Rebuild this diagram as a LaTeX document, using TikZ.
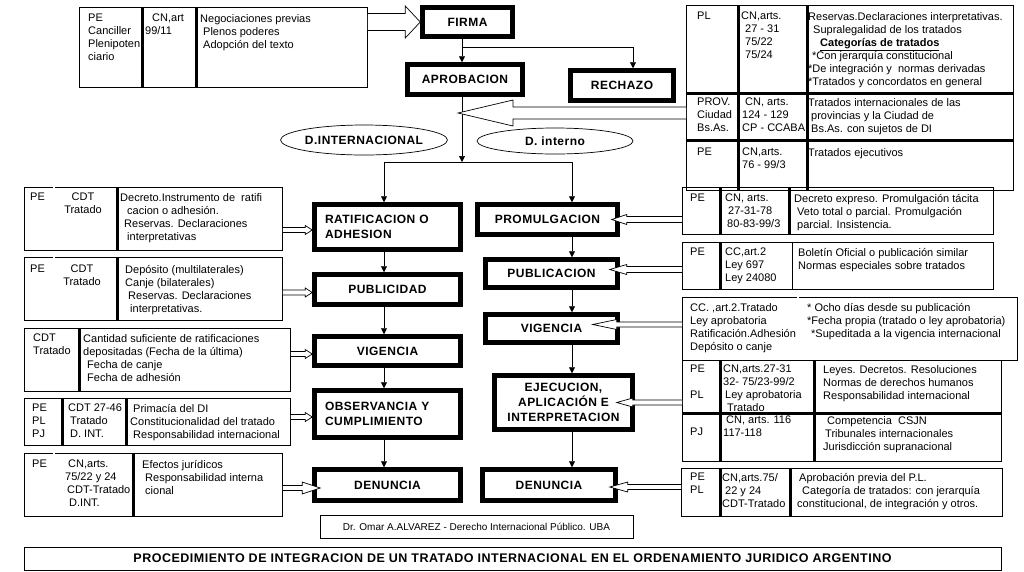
\documentclass[tikz,border=0pt]{standalone}
\usepackage{fontspec}
\setmainfont{Liberation Sans}
\newfontfamily\sperrfont{Liberation Sans}[LetterSpace=4]
\usetikzlibrary{shapes.geometric,calc,arrows.meta}

\newcommand{\klein}{\fontsize{11}{13}\selectfont}
\newcommand{\gross}{\sperrfont\bfseries\fontsize{12}{15}\selectfont}
\newcommand{\ein}[1]{\hspace*{#1pt}}
% Hohlpfeile (Schaft, Spitze, Laenge)
\newcommand{\hohlrechts}[5]{%
  \draw[hohl] let \p1=(#1), \p2=(#2) in
    (\x1,\y2+#3pt) -- (\x2-#5pt,\y2+#3pt) -- (\x2-#5pt,\y2+#4pt) -- (\x2,\y2)
    -- (\x2-#5pt,\y2-#4pt) -- (\x2-#5pt,\y2-#3pt) -- (\x1,\y2-#3pt);}
\newcommand{\hohllinks}[5]{%
  \draw[hohl] let \p1=(#1), \p2=(#2) in
    (\x1,\y2+#3pt) -- (\x2+#5pt,\y2+#3pt) -- (\x2+#5pt,\y2+#4pt) -- (\x2,\y2)
    -- (\x2+#5pt,\y2-#4pt) -- (\x2+#5pt,\y2-#3pt) -- (\x1,\y2-#3pt);}

\begin{document}
\begin{tikzpicture}[x=1pt, y=-1pt,
  tab/.style={draw, line width=0.8pt, inner sep=0pt, anchor=north west},
  zelle/.style={anchor=north west, align=left, inner sep=0pt, font=\klein},
  mitte/.style={anchor=north, align=center, inner sep=0pt, font=\klein},
  trenn/.style={line width=3pt},
  doppel/.style={double, double distance=1.4pt, line width=0.6pt},
  paso/.style={draw, line width=4.5pt, fill=white, inner sep=2pt, font=\gross},
  ovalo/.style={draw, ellipse, line width=0.7pt, inner sep=0pt, font=\sperrfont\bfseries\fontsize{12}{14}\selectfont},
  fluss/.style={-{Triangle[length=6pt,width=6pt]}, line width=0.7pt},
  hohl/.style={fill=white, line width=0.7pt}]
  \useasboundingbox (0,0) rectangle (1024,571);
  \fill[white] (0,0) rectangle (1024,571);

  % Hilfslinien
  \coordinate (mc) at (462,0);
  \coordinate (lc) at (384,0);
  \coordinate (rc) at (572,0);
  \coordinate (gabel) at (462,47);
  \coordinate (teil) at (462,162);
  \coordinate (prov) at (458,113);

  % Ablauf
  \node[paso, minimum width=90, minimum height=29] (firma) at (467.5,22) {FIRMA};
  \node[paso, minimum width=115, minimum height=30] (aprob) at (465,79.5) {APROBACION};
  \node[paso, minimum width=103, minimum height=30] (rechazo) at (622,85.5) {RECHAZO};
  \node[paso, minimum width=146, minimum height=45, text width=125, align=left] (ratif) at (387.5,227) {RATIFICACION O\\ADHESION};
  \node[paso, minimum width=146, minimum height=30] (publi) at (387.5,289.5) {PUBLICIDAD};
  \node[paso, minimum width=146, minimum height=29] (vigi) at (387.5,351) {VIGENCIA};
  \node[paso, minimum width=146, minimum height=47, text width=125, align=left] (obs) at (387.5,414) {OBSERVANCIA Y\\CUMPLIMIENTO};
  \node[paso, minimum width=146, minimum height=31] (denI) at (387.5,485) {DENUNCIA};
  \node[paso, minimum width=140, minimum height=30] (prom) at (547.5,219.5) {PROMULGACION};
  \node[paso, minimum width=132, minimum height=28] (publ) at (551.5,273.5) {PUBLICACION};
  \node[paso, minimum width=132, minimum height=28] (vigd) at (551.5,328.5) {VIGENCIA};
  \node[paso, minimum width=138, minimum height=54, align=center] (ejec) at (563.5,402.5) {EJECUCION,\\APLICACIÓN E\\INTERPRETACION};
  \node[paso, minimum width=133, minimum height=31] (denD) at (549,485) {DENUNCIA};

  \node[ovalo, minimum width=164, minimum height=30] (dint) at (364,140) {D.INTERNACIONAL};
  \node[ovalo, minimum width=156, minimum height=26] (dintr) at (555,141) {D. interno};

  % Tabelle Firma
  \node[tab, minimum width=288, minimum height=80] (tneg) at (79,7) {};
  \draw[trenn] (142,7) -- (142,87);
  \draw[trenn] (196,7) -- (196,87);
  \node[zelle] (neg1) at (88,14) {PE\\Canciller\\Plenipoten\\ciario};
  \node[zelle] (neg2) at (145,14) {\ein{7}CN,art\\99/11};
  \node[zelle] (neg3) at (200,14) {Negociaciones previas\\\ein{3}Plenos poderes\\\ein{3}Adopción del texto};

  % Tabelle oben rechts
  \node[tab, minimum width=327, minimum height=185] (ttop) at (686,5) {};
  \draw[trenn] (686,93) -- (1013,93);
  \draw[trenn] (686,140) -- (1013,140);
  \draw[trenn] (738,5) -- (738,190);
  \draw[trenn] (807,5) -- (807,190);
  \node[zelle] (top1) at (697,12) {PL};
  \node[zelle] (top2) at (741,12) {CN,arts.\\\ein{4}27 - 31\\\ein{4}75/22\\\ein{4}75/24};
  \node[zelle] (top3) at (808,12) {Reservas.Declaraciones interpretativas.\\\ein{5}Supralegalidad de los tratados\\\ein{12}\underline{\textbf{Categorías de tratados}}\\\ein{4}*Con jerarquía constitucional\\*De integración y\ \ normas derivadas\\*Tratados y concordatos en general};
  \node[zelle] (top4) at (697,98) {PROV.\\Ciudad\\Bs.As.};
  \node[zelle] (top5) at (742,98) {\ein{3}CN, arts.\\124 - 129\\CP - CCABA};
  \node[zelle] (top6) at (808,98) {Tratados internacionales de las\\\ein{3}provincias y la Ciudad de\\\ein{3}Bs.As. con sujetos de DI};
  \node[zelle] (top7) at (697,148) {PE};
  \node[zelle] (top8) at (742,148) {CN,arts.\\76 - 99/3};
  \node[zelle] (top9) at (808,148) {Tratados ejecutivos};

  % Tabellen links
  \node[tab, minimum width=258, minimum height=63] (tL1) at (24,187) {};
  \draw[doppel] (54,187) -- (54,250);
  \draw[trenn] (117,187) -- (117,250);
  \node[zelle] (l1a) at (30,193) {PE};
  \node[mitte] (l1b) at (83,193) {CDT\\Tratado};
  \node[zelle] (l1c) at (120,193) {Decreto.Instrumento de\ \ ratifi\\\ein{7}cacion o adhesión.\\\ein{4}Reservas. Declaraciones\\\ein{7}interpretativas};

  \node[tab, minimum width=258, minimum height=63] (tL2) at (24,257) {};
  \draw[doppel] (54,257) -- (54,320);
  \draw[trenn] (117,257) -- (117,320);
  \node[zelle] (l2a) at (30,265) {PE};
  \node[mitte] (l2b) at (82,265) {CDT\\Tratado};
  \node[zelle] (l2c) at (125,265) {Depósito (multilaterales)\\Canje (bilaterales)\\\ein{3}Reservas. Declaraciones\\\ein{5}interpretativas.};

  \node[tab, minimum width=266, minimum height=63] (tL3) at (24,328) {};
  \draw[trenn] (79,328) -- (79,391);
  \node[zelle] (l3a) at (33,334) {CDT\\Tratado};
  \node[zelle] (l3b) at (83,334) {Cantidad suficiente de ratificaciones\\depositadas (Fecha de la última)\\\ein{4}Fecha de canje\\\ein{4}Fecha de adhesión};

  \node[tab, minimum width=266, minimum height=47] (tL4) at (24,398) {};
  \draw[trenn] (62,398) -- (62,445);
  \draw[trenn] (126,398) -- (126,445);
  \node[zelle] (l4a) at (32,404) {PE\\PL\\PJ};
  \node[zelle] (l4b) at (68,404) {CDT 27-46\\\ein{2}Tratado\\\ein{2}D. INT.};
  \node[zelle] (l4c) at (130,404) {\ein{3}Primacía del DI\\Constitucionalidad del tratado\\\ein{3}Responsabilidad internacional};

  \node[tab, minimum width=258, minimum height=63] (tL5) at (24,453) {};
  \draw[doppel] (54,453) -- (54,516);
  \draw[trenn] (133,453) -- (133,516);
  \node[zelle] (l5a) at (32,460) {PE};
  \node[zelle] (l5b) at (65,460) {\ein{3}CN,arts.\\75/22 y 24\\\ein{2}CDT-Tratado\\\ein{4}D.INT.};
  \node[zelle] (l5c) at (142,460) {Efectos jurídicos\\\ein{3}Responsabilidad interna\\\ein{3}cional};

  % Tabellen rechts
  \node[tab, minimum width=311, minimum height=47] (tR1) at (682,187) {};
  \draw[trenn] (720,187) -- (720,234);
  \draw[trenn] (789,187) -- (789,234);
  \node[zelle] (r1a) at (690,194) {PE};
  \node[zelle] (r1b) at (725,194) {CN, arts.\\\ein{3}27-31-78\\\ein{2}80-83-99/3};
  \node[zelle] (r1c) at (794,194) {Decreto expreso. Promulgación tácita\\\ein{3}Veto total o parcial. Promulgación\\\ein{3}parcial. Insistencia.};

  \node[tab, minimum width=311, minimum height=47] (tR2) at (682,242) {};
  \draw[trenn] (720,242) -- (720,289);
  \draw[line width=0.8pt] (792,242) -- (792,289);
  \node[zelle] (r2a) at (690,248) {PE};
  \node[zelle] (r2b) at (725,248) {CC,art.2\\Ley 697\\Ley 24080};
  \node[zelle] (r2c) at (798,248) {Boletín Oficial o publicación similar\\Normas especiales sobre tratados};

  \node[tab, minimum width=335, minimum height=63] (tR3) at (682,297) {};
  \draw[doppel] (798,297) -- (798,360);
  \node[zelle] (r3a) at (690,303) {CC. ,art.2.Tratado\\Ley aprobatoria\\Ratificación.Adhesión\\Depósito o canje};
  \node[zelle] (r3b) at (807,303) {* Ocho días desde su publicación\\*Fecha propia (tratado o ley aprobatoria)\\\ein{4}*Supeditada a la vigencia internacional};

  \node[tab, minimum width=319, minimum height=101] (tR4) at (682,360) {};
  \draw[trenn] (720,360) -- (720,461);
  \draw[trenn] (814,360) -- (814,461);
  \node[zelle] (r4a) at (690,365) {PE\\[13pt]PL};
  \node[zelle] (r4b) at (723,365) {CN,arts.27-31\\32- 75/23-99/2\\\ein{2}Ley aprobatoria\\\ein{4}Tratado};
  \node[zelle] (r4c) at (823,365) {Leyes. Decretos. Resoluciones\\Normas de derechos humanos\\Responsabilidad internacional};
  \draw[trenn] (682,413) -- (1001,413);
  \node[zelle] (r4d) at (690,428) {PJ};
  \node[zelle] (r4e) at (723,416) {\ein{3}CN, arts. 116\\117-118};
  \node[zelle] (r4f) at (823,416) {\ein{4}Competencia\ \ CSJN\\\ein{2}Tribunales internacionales\\Jurisdicción supranacional};

  \node[tab, minimum width=321, minimum height=48] (tR5) at (681,468) {};
  \draw[trenn] (720,468) -- (720,516);
  \draw[trenn] (790,468) -- (790,516);
  \node[zelle] (r5a) at (690,473) {PE\\PL};
  \node[zelle] (r5b) at (722,473) {CN,arts.75/\\\ein{3}22 y 24\\CDT-Tratado};
  \node[zelle] (r5c) at (797,473) {\ein{2}Aprobación previa del P.L.\\\ein{5}Categoría de tratados: con jerarquía\\constitucional, de integración y otros.};

  % Fusszeilen
  \node[draw, line width=0.8pt, minimum width=313, minimum height=23, inner sep=0pt,
        font=\fontsize{10}{12}\selectfont] (autor) at (476.5,526.5)
        {Dr. Omar A.ALVAREZ - Derecho Internacional Público. UBA};
  \node[draw, line width=0.8pt, minimum width=977, minimum height=23, inner sep=0pt,
        font=\sperrfont\bfseries\fontsize{12.5}{14}\selectfont] (titel) at (512.5,558.5)
        {PROCEDIMIENTO DE INTEGRACION DE UN TRATADO INTERNACIONAL EN EL ORDENAMIENTO JURIDICO ARGENTINO};

  % Verbindungen
  \draw[fluss] (firma.south -| mc) -- (aprob.north -| mc);
  \draw[fluss] (gabel) -| ([xshift=11pt]rechazo.north);
  \draw[fluss] (aprob.south -| mc) -- (teil);
  \draw[line width=0.7pt] (teil -| lc) -- (teil -| rc);
  \draw[fluss] (teil -| lc) -- (ratif.north -| lc);
  \draw[fluss] (teil -| rc) -- (prom.north -| rc);
  \foreach \a/\b in {ratif/publi, publi/vigi, vigi/obs, obs/denI}
    \draw[fluss] (\a.south -| lc) -- (\b.north -| lc);
  \foreach \a/\b in {prom/publ, publ/vigd, vigd/ejec, ejec/denD}
    \draw[fluss] (\a.south -| rc) -- (\b.north -| rc);

  % Hohlpfeile
  \hohlrechts{tneg.east}{firma.west}{8.5}{16}{15}
  \hohllinks{ttop.west}{prov}{6}{13}{55}
  \hohlrechts{tL1.east}{[yshift=-3pt]ratif.west}{2.5}{4.5}{7}
  \hohlrechts{tL2.east}{[yshift=-3pt]publi.west}{2.5}{4.5}{7}
  \hohlrechts{tL3.east}{[yshift=-3pt]vigi.west}{2.5}{4.5}{7}
  \hohlrechts{tL4.east}{[yshift=-3pt]obs.west}{2.5}{4.5}{7}
  \hohlrechts{tL5.east}{[xshift=8pt,yshift=-3pt]denI.west}{2.5}{6}{18}
  \hohllinks{tR1.west}{[xshift=-8pt]prom.east}{3}{5}{15}
  \hohllinks{tR2.west}{[xshift=-10pt,yshift=4pt]publ.east}{3}{5}{17}
  \hohllinks{tR3.west}{[xshift=-27pt,yshift=4pt]vigd.east}{2.5}{5}{24}
  \hohllinks{tR4.west}{[xshift=-18pt]ejec.east}{2.5}{4.5}{16}
  \hohllinks{tR5.west}{[xshift=-8pt,yshift=-2pt]denD.east}{2.5}{5}{18}
\end{tikzpicture}
\end{document}
